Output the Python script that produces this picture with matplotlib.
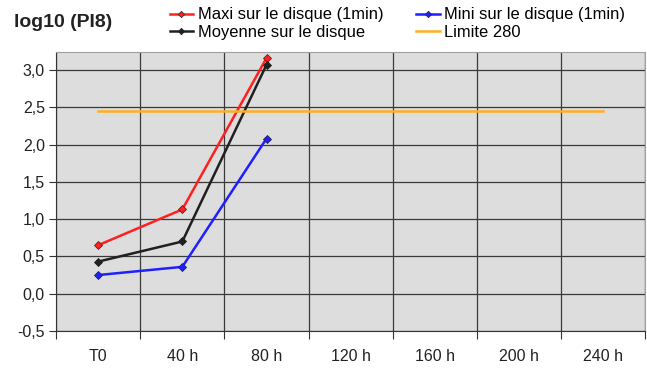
import numpy as np
import matplotlib.pyplot as plt
from matplotlib.ticker import FixedLocator, FuncFormatter

plt.rcParams['font.family'] = ['Liberation Sans', 'DejaVu Sans']

categories = ['T0', '40 h', '80 h', '120 h', '160 h', '200 h', '240 h']
maxi = [0.65, 1.13, 3.16]
mini = [0.25, 0.36, 2.08]
moyenne = [0.43, 0.70, 3.07]
limite = np.log10(280)

fig = plt.figure(figsize=(6.47, 3.69), dpi=100)
ax = fig.add_axes([0.0866, 0.103, 0.911, 0.756])
ax.set_facecolor('#DDDDDD')

x = np.arange(len(maxi))
l1, = ax.plot(x, maxi, color='#FF2020', lw=1.8, marker='D', ms=4,
              mfc='#FF2020', mec='#602020', mew=0.6)
l2, = ax.plot(x, mini, color='#2020FF', lw=1.8, marker='D', ms=4,
              mfc='#2020FF', mec='#202060', mew=0.6)
l3, = ax.plot(x, moyenne, color='#202020', lw=1.8, marker='D', ms=4,
              mfc='#202020', mec='#202020', mew=0.6)
l4, = ax.plot([0, len(categories) - 1], [limite, limite], color='#FFB020', lw=1.8)

ax.set_xlim(-0.5, len(categories) - 0.5)
ax.set_ylim(-0.5, 3.24)

ax.xaxis.set_major_locator(FixedLocator(np.arange(len(categories) + 1) - 0.5))
ax.xaxis.set_major_formatter(FuncFormatter(lambda v, p: ''))
ax.xaxis.set_minor_locator(FixedLocator(np.arange(len(categories))))
ax.set_xticklabels(categories, minor=True)
ax.tick_params(axis='x', which='major', length=6, width=0.8, color='#333333', direction='out')
ax.tick_params(axis='x', which='minor', length=0, pad=13, labelsize=11.5, labelcolor='#222222')

ax.set_yticks(np.arange(-0.5, 3.01, 0.5))
ax.yaxis.set_major_formatter(FuncFormatter(lambda v, p: f'{v:.1f}'.replace('.', ',')))
ax.tick_params(axis='y', length=5, width=0.8, color='#333333', labelsize=11.5, labelcolor='#222222', pad=3)

ax.grid(True, which='major', color='#3A3A3A', lw=0.9)
ax.set_axisbelow(True)
for side in ['top', 'right']:
    ax.spines[side].set_color('#A0A0A0')
ax.spines['left'].set_color('#333333')
ax.spines['bottom'].set_color('#333333')

fig.text(0.022, 0.94, 'log10 (PI8)', fontsize=14, fontweight='bold', va='center', color='#222222')

fig.legend([l1, l3, l2, l4],
           ['Maxi sur le disque (1min)', 'Moyenne sur le disque',
            'Mini sur le disque (1min)', 'Limite 280'],
           ncol=2, loc='upper left', bbox_to_anchor=(0.239, 1.02), frameon=False,
           fontsize=11.9, handlelength=1.45, handletextpad=0.25, columnspacing=2.0,
           labelspacing=0.15, markerscale=0.8)

fig.savefig('out.png', dpi=100)
